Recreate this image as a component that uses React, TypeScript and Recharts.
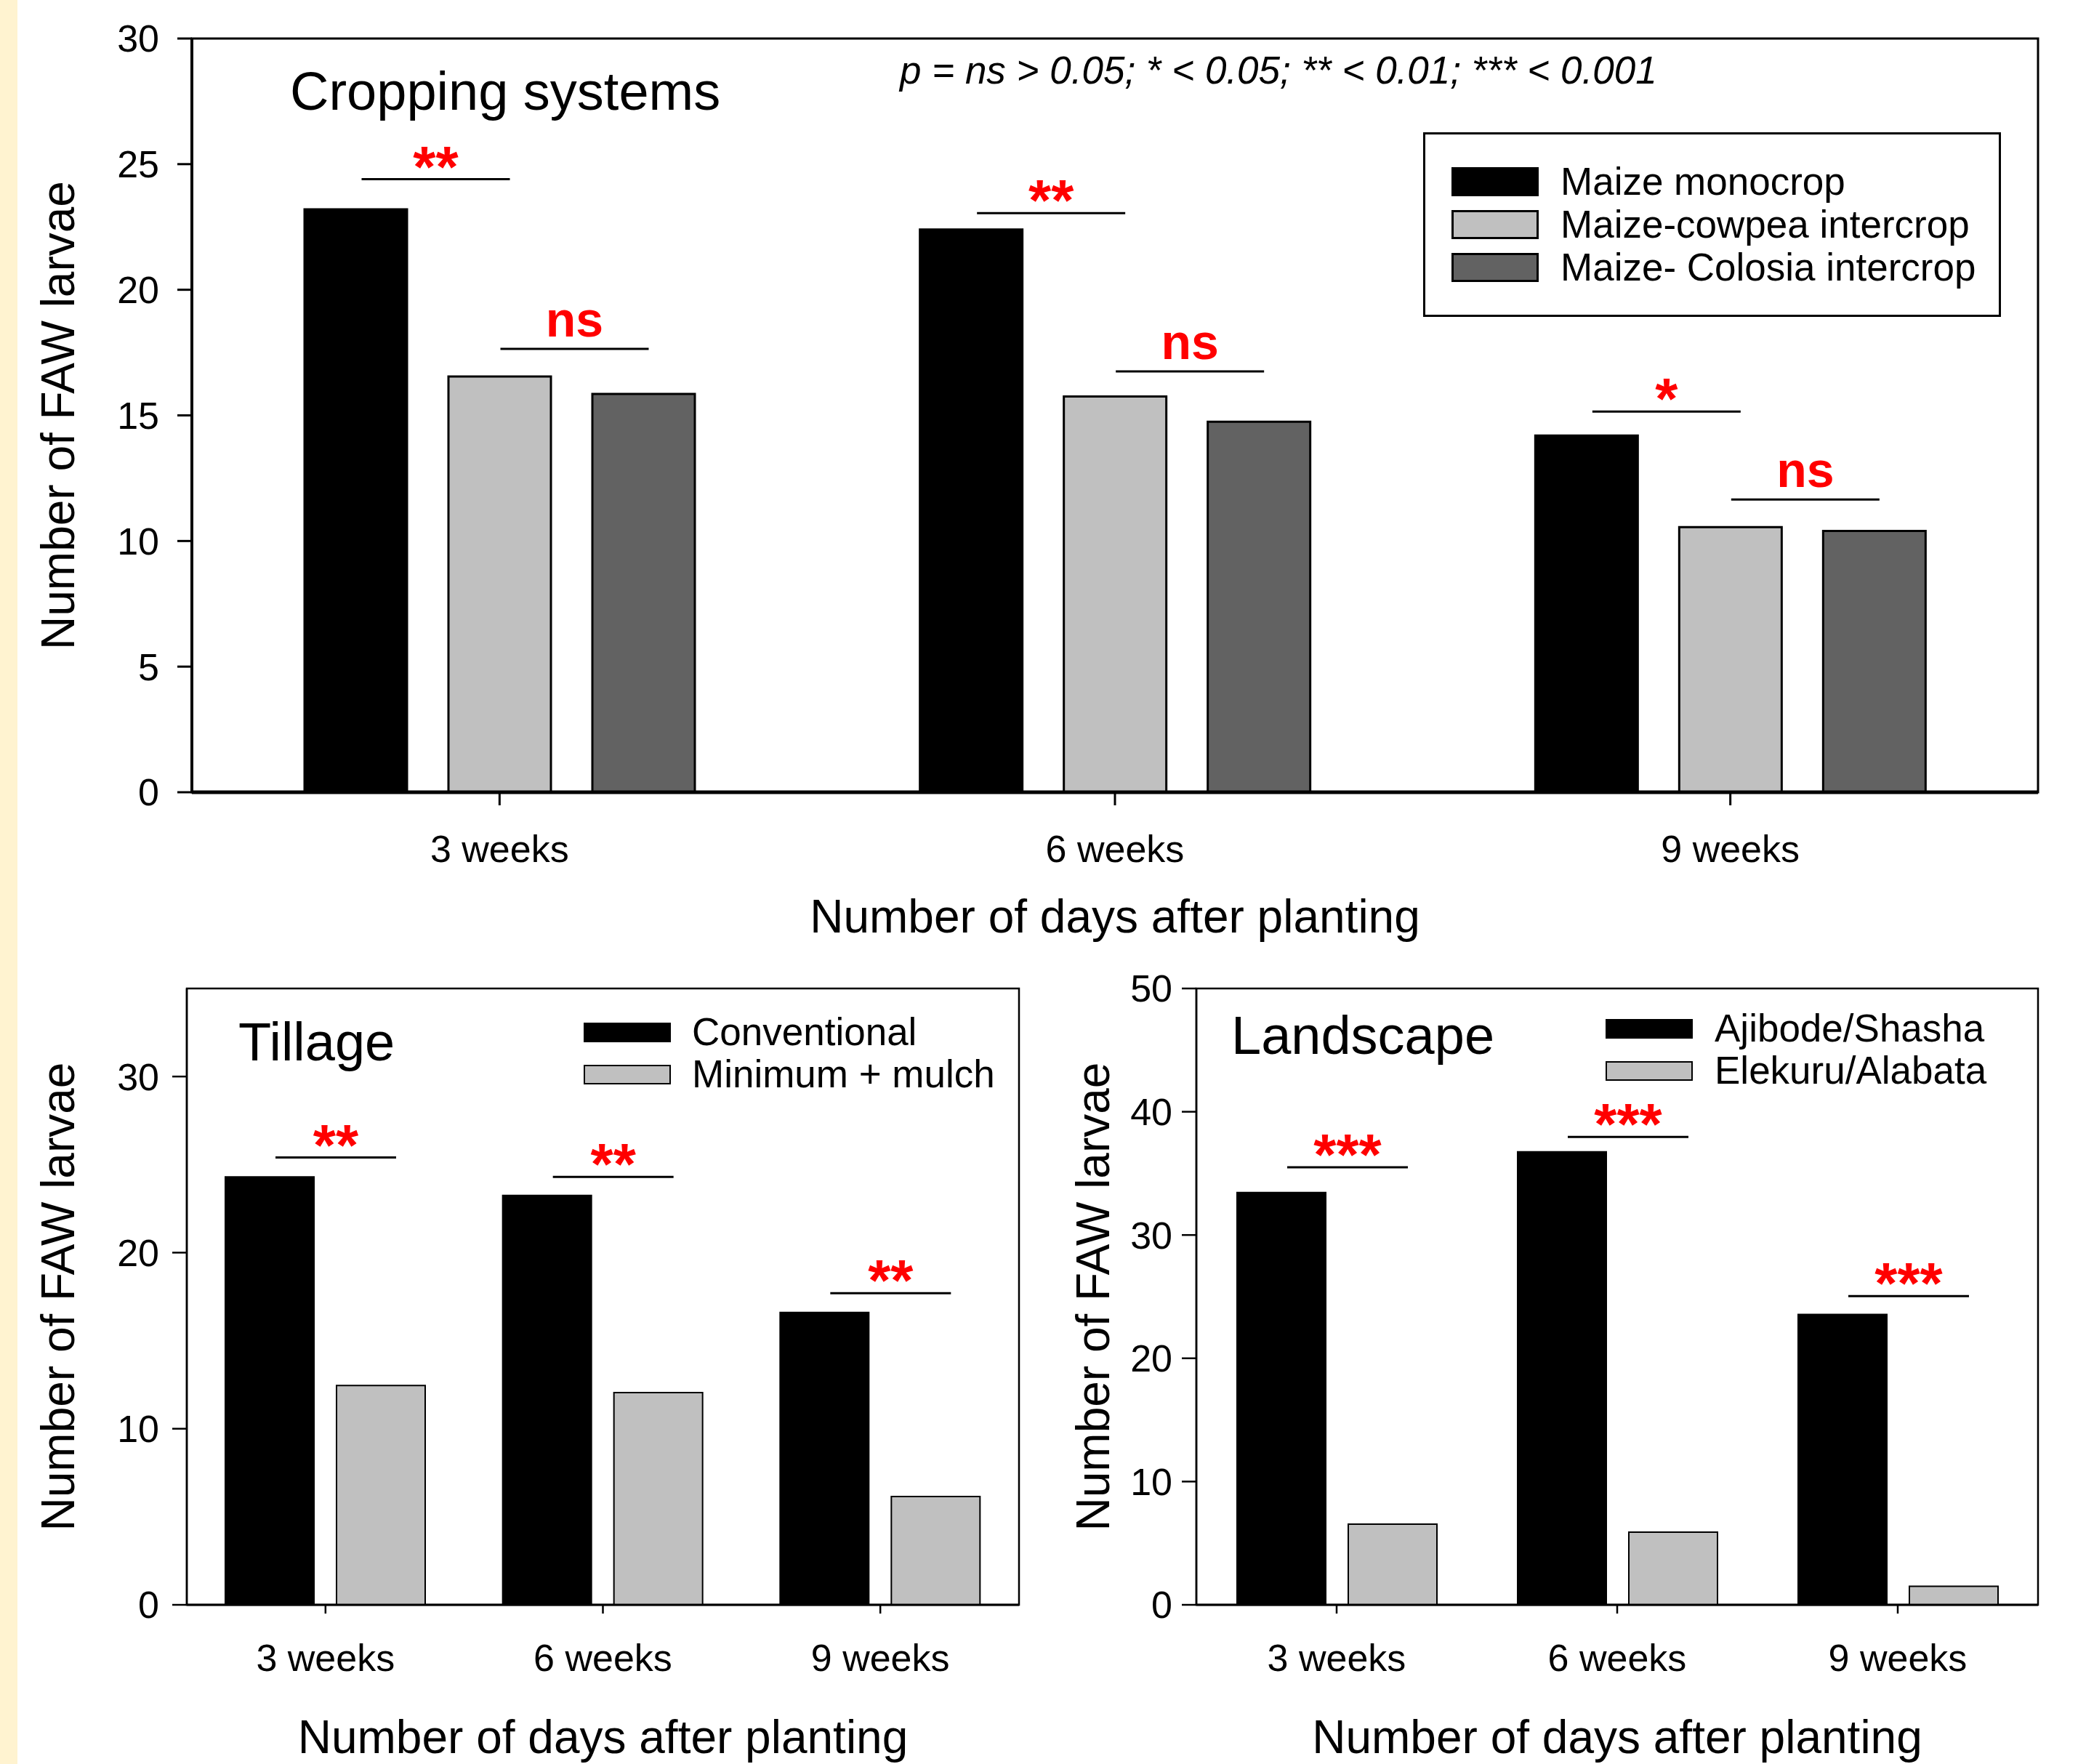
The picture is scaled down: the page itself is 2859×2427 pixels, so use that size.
import React from "react";
import { BarChart, Bar, XAxis, YAxis, Legend, LabelList, ReferenceArea } from "recharts";

const weeks = ["3 weeks", "6 weeks", "9 weeks"];

// cropping systems
const maizeMono = [23.2, 22.4, 14.2];
const maizeCowpea = [16.55, 15.75, 10.55];
const maizeColosia = [15.85, 14.75, 10.4];
const cropStar = ["**", "**", "*"];
const cropStarAt = [24.4, 23.05, 15.15];
const cropNs = ["ns", "ns", "ns"];
const cropNsAt = [17.65, 16.75, 11.65];
const cropTicks = [0, 5, 10, 15, 20, 25, 30];

// tillage
const conventional = [24.3, 23.25, 16.6];
const minimumMulch = [12.45, 12.05, 6.15];
const tillStar = ["**", "**", "**"];
const tillStarAt = [25.4, 24.3, 17.7];
const tillTicks = [0, 10, 20, 30];

// landscape
const ajibode = [33.45, 36.75, 23.55];
const elekuru = [6.55, 5.9, 1.5];
const landStar = ["***", "***", "***"];
const landStarAt = [35.5, 37.95, 25.05];
const landTicks = [0, 10, 20, 30, 40, 50];

const cropSeries = [
  { key: "mono", name: "Maize monocrop", color: "#000000" },
  { key: "cowpea", name: "Maize-cowpea intercrop", color: "#C0C0C0" },
  { key: "colosia", name: "Maize- Colosia intercrop", color: "#626262" },
];
const tillSeries = [
  { key: "conv", name: "Conventional", color: "#000000" },
  { key: "mulch", name: "Minimum + mulch", color: "#C0C0C0" },
];
const landSeries = [
  { key: "aji", name: "Ajibode/Shasha", color: "#000000" },
  { key: "ele", name: "Elekuru/Alabata", color: "#C0C0C0" },
];

const cropData = weeks.map((week, i) => ({
  week,
  mono: maizeMono[i],
  cowpea: maizeCowpea[i],
  colosia: maizeColosia[i],
}));
const tillData = weeks.map((week, i) => ({ week, conv: conventional[i], mulch: minimumMulch[i] }));
const landData = weeks.map((week, i) => ({ week, aji: ajibode[i], ele: elekuru[i] }));

const FONT = '"Liberation Sans", Arial, Helvetica, sans-serif';

// line + star/ns text drawn above a bar, spanning to the next bar of the group
function sigLabel(values: number[], levels: number[], texts: string[], start: number, len: number) {
  return (props: any) => {
    const vb = props.viewBox ?? props;
    const i = props.index ?? levels.indexOf(props.value);
    if (i < 0 || i == null) return null;
    const x = Number(vb.x);
    const y = Number(vb.y);
    const w = Number(vb.width);
    const h = Number(vb.height);
    const bottom = Math.max(y, y + h);
    const perUnit = Math.abs(h) / values[i];
    const ly = bottom - levels[i] * perUnit;
    const x1 = x + w / 2 + start;
    const x2 = x1 + len;
    const t = texts[i];
    const star = t.includes("*");
    return (
      <g key={`sig-${i}`}>
        <line x1={x1} x2={x2} y1={ly} y2={ly} stroke="#000" strokeWidth={3} />
        <text
          x={(x1 + x2) / 2}
          y={star ? ly + 10 : ly - 17}
          textAnchor="middle"
          fill="#FF0000"
          fontWeight="bold"
          fontFamily={FONT}
          fontSize={star ? 80 : 68}
        >
          {t}
        </text>
      </g>
    );
  };
}

function legendContent(
  series: { key: string; name: string; color: string }[],
  sw: number,
  sh: number,
  border: number,
  rowH: number,
  gap: number
) {
  return (props: any) => {
    const payload: any[] = props.payload ?? [];
    const order = series.map((s) => s.key);
    const items = payload.length
      ? payload.slice().sort((a, b) => order.indexOf(a.dataKey) - order.indexOf(b.dataKey))
      : series.map((s) => ({ dataKey: s.key, value: s.name }));
    return (
      <div style={{ fontFamily: FONT }}>
        {items.map((it) => {
          const s = series.find((q) => q.key === it.dataKey)!;
          return (
            <div key={s.key} style={{ display: "flex", alignItems: "center", height: rowH }}>
              <span
                style={{
                  display: "inline-block",
                  width: sw,
                  height: sh,
                  boxSizing: "border-box",
                  background: s.color,
                  border: `${border}px solid #000`,
                  marginRight: gap,
                }}
              />
              <span style={{ fontSize: 53, lineHeight: `${rowH}px`, color: "#000", whiteSpace: "nowrap" }}>
                {it.value}
              </span>
            </div>
          );
        })}
      </div>
    );
  };
}

const tickStyle = { fill: "#000", fontSize: 52 };

function Title({ text, left, top, size = 74, italic = false }: any) {
  return (
    <div
      style={{
        position: "absolute",
        left,
        top,
        fontSize: size,
        lineHeight: 1,
        fontStyle: italic ? "italic" : "normal",
        whiteSpace: "nowrap",
        color: "#000",
      }}
    >
      {text}
    </div>
  );
}

export default function App() {
  return (
    <div
      style={{
        position: "absolute",
        left: 0,
        top: 0,
        width: 2859,
        height: 2427,
        background: "#fff",
        fontFamily: FONT,
        overflow: "hidden",
      }}
    >
      <div style={{ position: "absolute", left: 0, top: 0, width: 24, height: 2427, background: "#FFF3D0" }} />

      {/* top: cropping systems */}
      <div style={{ position: "absolute", left: 0, top: 0 }}>
        <BarChart
          width={2859}
          height={1300}
          data={cropData}
          margin={{ top: 53, right: 55, left: 64, bottom: 10 }}
          barGap={57}
        >
          <ReferenceArea y1={0} y2={30} fill="none" stroke="#000" strokeWidth={3} ifOverflow="visible" />
          <XAxis
            dataKey="week"
            height={200}
            interval={0}
            tickSize={18}
            tickMargin={41}
            axisLine={{ stroke: "#000", strokeWidth: 5 }}
            tickLine={{ stroke: "#000", strokeWidth: 3 }}
            tick={tickStyle}
            label={{
              value: "Number of days after planting",
              position: "insideBottom",
              offset: 7,
              fill: "#000",
              fontSize: 64,
            }}
          />
          <YAxis
            type="number"
            domain={[0, 30]}
            ticks={cropTicks}
            interval={0}
            width={200}
            tickSize={20}
            tickMargin={25}
            axisLine={{ stroke: "#000", strokeWidth: 4 }}
            tickLine={{ stroke: "#000", strokeWidth: 3 }}
            tick={tickStyle}
            label={{
              value: "Number of FAW larvae",
              angle: -90,
              position: "insideLeft",
              offset: 15,
              fill: "#000",
              fontSize: 64,
              style: { textAnchor: "middle" },
            }}
          />
          <Legend
            layout="vertical"
            align="center"
            verticalAlign="middle"
            wrapperStyle={{
              left: 1958,
              top: 182,
              width: 795,
              height: 254,
              boxSizing: "border-box",
              border: "3px solid #000",
              paddingTop: 35,
              paddingLeft: 36,
              background: "#fff",
            }}
            content={legendContent(cropSeries, 120, 40, 3, 59, 30)}
          />
          {cropSeries.map((s) => (
            <Bar
              key={s.key}
              dataKey={s.key}
              name={s.name}
              fill={s.color}
              stroke="#000"
              strokeWidth={3}
              barSize={141}
              isAnimationActive={false}
            >
              {s.key === "mono" && (
                <LabelList dataKey="mono" content={sigLabel(maizeMono, cropStarAt, cropStar, 8, 204)} />
              )}
              {s.key === "cowpea" && (
                <LabelList dataKey="cowpea" content={sigLabel(maizeCowpea, cropNsAt, cropNs, 1, 204)} />
              )}
            </Bar>
          ))}
        </BarChart>
      </div>

      {/* bottom left: tillage */}
      <div style={{ position: "absolute", left: 0, top: 1300 }}>
        <BarChart
          width={1430}
          height={1127}
          data={tillData}
          margin={{ top: 60, right: 28, left: 79, bottom: 9 }}
          barGap={31}
        >
          <ReferenceArea y1={0} y2={35} fill="none" stroke="#000" strokeWidth={2.5} ifOverflow="visible" />
          <XAxis
            dataKey="week"
            height={210}
            interval={0}
            tickSize={12}
            tickMargin={42}
            axisLine={{ stroke: "#000", strokeWidth: 3 }}
            tickLine={{ stroke: "#000", strokeWidth: 2.5 }}
            tick={tickStyle}
            label={{
              value: "Number of days after planting",
              position: "insideBottom",
              offset: 6,
              fill: "#000",
              fontSize: 64,
            }}
          />
          <YAxis
            type="number"
            domain={[0, 35]}
            ticks={tillTicks}
            interval={0}
            width={178}
            tickSize={20}
            tickMargin={18}
            axisLine={{ stroke: "#000", strokeWidth: 2.5 }}
            tickLine={{ stroke: "#000", strokeWidth: 2.5 }}
            tick={tickStyle}
            label={{
              value: "Number of FAW larvae",
              angle: -90,
              position: "insideLeft",
              offset: 0,
              fill: "#000",
              fontSize: 64,
              style: { textAnchor: "middle" },
            }}
          />
          <Legend
            layout="vertical"
            align="center"
            verticalAlign="middle"
            wrapperStyle={{ left: 803, top: 91, width: 600 }}
            content={legendContent(tillSeries, 120, 27, 2, 58, 29)}
          />
          {tillSeries.map((s) => (
            <Bar
              key={s.key}
              dataKey={s.key}
              name={s.name}
              fill={s.color}
              stroke="#000"
              strokeWidth={2}
              barSize={122}
              isAnimationActive={false}
            >
              {s.key === "conv" && (
                <LabelList dataKey="conv" content={sigLabel(conventional, tillStarAt, tillStar, 8, 166)} />
              )}
            </Bar>
          ))}
        </BarChart>
      </div>

      {/* bottom right: landscape */}
      <div style={{ position: "absolute", left: 1430, top: 1300 }}>
        <BarChart
          width={1429}
          height={1127}
          data={landData}
          margin={{ top: 60, right: 55, left: 73, bottom: 9 }}
          barGap={31}
        >
          <ReferenceArea y1={0} y2={50} fill="none" stroke="#000" strokeWidth={2.5} ifOverflow="visible" />
          <XAxis
            dataKey="week"
            height={210}
            interval={0}
            tickSize={12}
            tickMargin={42}
            axisLine={{ stroke: "#000", strokeWidth: 3 }}
            tickLine={{ stroke: "#000", strokeWidth: 2.5 }}
            tick={tickStyle}
            label={{
              value: "Number of days after planting",
              position: "insideBottom",
              offset: 6,
              fill: "#000",
              fontSize: 64,
            }}
          />
          <YAxis
            type="number"
            domain={[0, 50]}
            ticks={landTicks}
            interval={0}
            width={143}
            tickSize={20}
            tickMargin={13}
            axisLine={{ stroke: "#000", strokeWidth: 2.5 }}
            tickLine={{ stroke: "#000", strokeWidth: 2.5 }}
            tick={tickStyle}
            label={{
              value: "Number of FAW larvae",
              angle: -90,
              position: "insideLeft",
              offset: 0,
              fill: "#000",
              fontSize: 64,
              style: { textAnchor: "middle" },
            }}
          />
          <Legend
            layout="vertical"
            align="center"
            verticalAlign="middle"
            wrapperStyle={{ left: 779, top: 86, width: 600 }}
            content={legendContent(landSeries, 120, 27, 2, 58, 30)}
          />
          {landSeries.map((s) => (
            <Bar
              key={s.key}
              dataKey={s.key}
              name={s.name}
              fill={s.color}
              stroke="#000"
              strokeWidth={2}
              barSize={122}
              isAnimationActive={false}
            >
              {s.key === "aji" && (
                <LabelList dataKey="aji" content={sigLabel(ajibode, landStarAt, landStar, 8, 166)} />
              )}
            </Bar>
          ))}
        </BarChart>
      </div>

      <Title text="Cropping systems" left={399} top={89} />
      <Title text="p = ns > 0.05; * < 0.05; ** < 0.01; *** < 0.001" left={1238} top={70} size={53} italic />
      <Title text="Tillage" left={328} top={1397} />
      <Title text="Landscape" left={1694} top={1388} />
    </div>
  );
}
